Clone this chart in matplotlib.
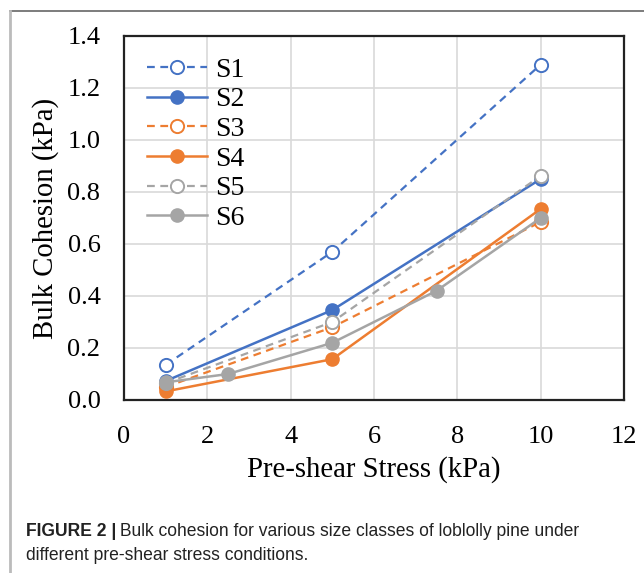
import matplotlib
matplotlib.use("Agg")
import matplotlib.pyplot as plt
from matplotlib.lines import Line2D

x_main = [1, 5, 10]
s1 = [0.135, 0.57, 1.29]
s2 = [0.073, 0.346, 0.85]
s3 = [0.05, 0.28, 0.685]
s4 = [0.033, 0.157, 0.735]
s5 = [0.065, 0.30, 0.862]
x_s6 = [1, 2.5, 5, 7.5, 10]
s6 = [0.068, 0.10, 0.22, 0.42, 0.70]

xticks = [0, 2, 4, 6, 8, 10, 12]
yticks = [0.0, 0.2, 0.4, 0.6, 0.8, 1.0, 1.2, 1.4]

blue = "#4472C4"
orange = "#ED7D31"
gray = "#A5A5A5"

fig = plt.figure(figsize=(6.44, 5.73), dpi=100)
ax = fig.add_axes([124/644, 1-400/573, 500/644, 364/573])

serif = "Liberation Serif"
ms = 9.5
dash = (0, (3.5, 2.5))
ax.plot(x_main, s1, color=blue, ls=dash, lw=1.6, marker="o", ms=ms, mfc="white", mec=blue, mew=1.4, label="S1", zorder=3)
ax.plot(x_main, s2, color=blue, ls="-", lw=1.8, marker="o", ms=ms, mfc=blue, mec=blue, label="S2", zorder=3)
ax.plot(x_main, s3, color=orange, ls=dash, lw=1.6, marker="o", ms=ms, mfc="white", mec=orange, mew=1.4, label="S3", zorder=3)
ax.plot(x_main, s4, color=orange, ls="-", lw=1.8, marker="o", ms=ms, mfc=orange, mec=orange, label="S4", zorder=3)
ax.plot(x_main, s5, color=gray, ls=dash, lw=1.6, marker="o", ms=ms, mfc="white", mec=gray, mew=1.4, label="S5", zorder=3)
ax.plot(x_s6, s6, color=gray, ls="-", lw=1.8, marker="o", ms=ms, mfc=gray, mec=gray, label="S6", zorder=3)

ax.set_xlim(0, 12)
ax.set_ylim(0, 1.4)
ax.set_xticks(xticks)
ax.set_xticklabels([str(t) for t in xticks], fontfamily=serif, fontsize=19)
ax.set_yticks(yticks)
ax.set_yticklabels([f"{t:.1f}" for t in yticks], fontfamily=serif, fontsize=19)
ax.tick_params(axis="y", length=0, pad=17)
ax.tick_params(axis="x", length=0, pad=18.5)
ax.grid(True, color="#D9D9D9", lw=1.2, zorder=0)
ax.set_axisbelow(True)
for sp in ax.spines.values():
    sp.set_color("#222222")
    sp.set_linewidth(1.6)

ax.set_xlabel("Pre-shear Stress (kPa)", fontfamily=serif, fontsize=20.7, labelpad=6)
ax.set_ylabel("Bulk Cohesion (kPa)", fontfamily=serif, fontsize=20.7, labelpad=6)

leg = ax.legend(loc="upper left", bbox_to_anchor=(0.012, 0.987), frameon=False,
                prop={"family": serif, "size": 20}, handlelength=2.16,
                labelspacing=0.15, handletextpad=0.3, borderaxespad=0.2)

# outer frame lines
fig.add_artist(Line2D([10/644, 1], [1-11/573, 1-11/573], color="#666666", lw=1.2, transform=fig.transFigure))
fig.add_artist(Line2D([10/644, 10/644], [0, 1-11/573], color="#BBBBBB", lw=2, transform=fig.transFigure))

# caption
cap_font = "Liberation Sans"
cs = 12.65
t1 = fig.text(26/644, 1-531/573, "FIGURE 2 |", fontfamily=cap_font, fontsize=cs, fontweight="bold", va="center", color="#222222")
fig.canvas.draw()
bb = t1.get_window_extent()
fig.text(bb.x1/644 + 4/644, 1-531/573, "Bulk cohesion for various size classes of loblolly pine under",
         fontfamily=cap_font, fontsize=cs, va="center", color="#222222")
fig.text(26/644, 1-555/573, "different pre-shear stress conditions.", fontfamily=cap_font, fontsize=cs, va="center", color="#222222")

fig.savefig("out.png", dpi=100)
